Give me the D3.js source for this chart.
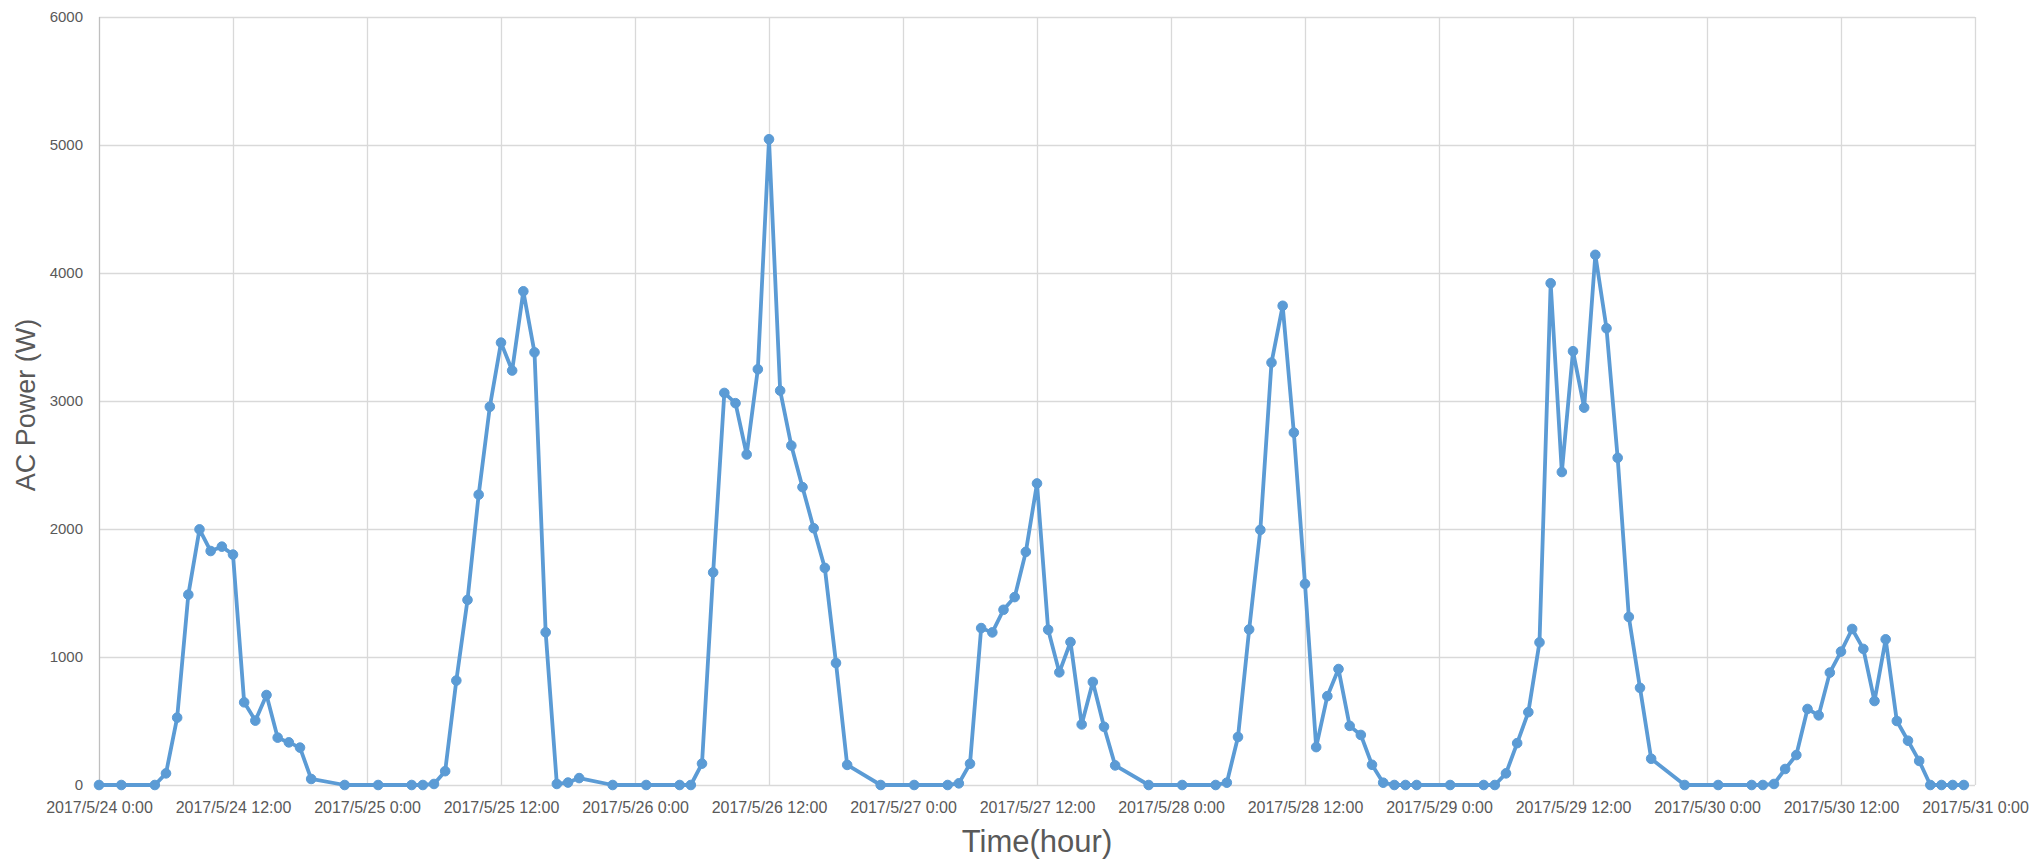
<!DOCTYPE html>
<html>
<head>
<meta charset="utf-8">
<script src="https://cdn.jsdelivr.net/npm/d3@7"></script>
<style>
  html, body { margin: 0; padding: 0; background: #ffffff; }
  svg { display: block; }
  text { font-family: "Liberation Sans", Arial, sans-serif; fill: #595959; }
</style>
</head>
<body>
<svg id="chart" width="2040" height="864"></svg>
<script>
// ---- data ----
const times = [
  "2017/5/24 0:00","2017/5/24 2:00","2017/5/24 5:00","2017/5/24 6:00","2017/5/24 7:00","2017/5/24 8:00","2017/5/24 9:00","2017/5/24 10:00","2017/5/24 11:00","2017/5/24 12:00","2017/5/24 13:00","2017/5/24 14:00","2017/5/24 15:00","2017/5/24 16:00","2017/5/24 17:00","2017/5/24 18:00","2017/5/24 19:00","2017/5/24 22:00",
  "2017/5/25 1:00","2017/5/25 4:00","2017/5/25 5:00","2017/5/25 6:00","2017/5/25 7:00","2017/5/25 8:00","2017/5/25 9:00","2017/5/25 10:00","2017/5/25 11:00","2017/5/25 12:00","2017/5/25 13:00","2017/5/25 14:00","2017/5/25 15:00","2017/5/25 16:00","2017/5/25 17:00","2017/5/25 18:00","2017/5/25 19:00","2017/5/25 22:00",
  "2017/5/26 1:00","2017/5/26 4:00","2017/5/26 5:00","2017/5/26 6:00","2017/5/26 7:00","2017/5/26 8:00","2017/5/26 9:00","2017/5/26 10:00","2017/5/26 11:00","2017/5/26 12:00","2017/5/26 13:00","2017/5/26 14:00","2017/5/26 15:00","2017/5/26 16:00","2017/5/26 17:00","2017/5/26 18:00","2017/5/26 19:00","2017/5/26 22:00",
  "2017/5/27 1:00","2017/5/27 4:00","2017/5/27 5:00","2017/5/27 6:00","2017/5/27 7:00","2017/5/27 8:00","2017/5/27 9:00","2017/5/27 10:00","2017/5/27 11:00","2017/5/27 12:00","2017/5/27 13:00","2017/5/27 14:00","2017/5/27 15:00","2017/5/27 16:00","2017/5/27 17:00","2017/5/27 18:00","2017/5/27 19:00","2017/5/27 22:00",
  "2017/5/28 1:00","2017/5/28 4:00","2017/5/28 5:00","2017/5/28 6:00","2017/5/28 7:00","2017/5/28 8:00","2017/5/28 9:00","2017/5/28 10:00","2017/5/28 11:00","2017/5/28 12:00","2017/5/28 13:00","2017/5/28 14:00","2017/5/28 15:00","2017/5/28 16:00","2017/5/28 17:00","2017/5/28 18:00","2017/5/28 19:00","2017/5/28 20:00","2017/5/28 21:00","2017/5/28 22:00",
  "2017/5/29 1:00","2017/5/29 4:00","2017/5/29 5:00","2017/5/29 6:00","2017/5/29 7:00","2017/5/29 8:00","2017/5/29 9:00","2017/5/29 10:00","2017/5/29 11:00","2017/5/29 12:00","2017/5/29 13:00","2017/5/29 14:00","2017/5/29 15:00","2017/5/29 16:00","2017/5/29 17:00","2017/5/29 18:00","2017/5/29 19:00","2017/5/29 22:00",
  "2017/5/30 1:00","2017/5/30 4:00","2017/5/30 5:00","2017/5/30 6:00","2017/5/30 7:00","2017/5/30 8:00","2017/5/30 9:00","2017/5/30 10:00","2017/5/30 11:00","2017/5/30 12:00","2017/5/30 13:00","2017/5/30 14:00","2017/5/30 15:00","2017/5/30 16:00","2017/5/30 17:00","2017/5/30 18:00","2017/5/30 19:00","2017/5/30 20:00","2017/5/30 21:00","2017/5/30 22:00","2017/5/30 23:00"
];
const acPower = [
  0,0,0,91,526,1487,1997,1828,1862,1800,646,503,703,370,333,292,47,0,
  0,0,0,8,108,816,1446,2268,2955,3456,3238,3857,3380,1193,8,19,54,0,
  0,0,0,167,1661,3063,2983,2582,3248,5045,3081,2652,2327,2006,1696,953,157,0,
  0,0,13,166,1226,1192,1369,1468,1821,2356,1213,880,1117,473,805,455,153,0,
  0,0,18,375,1215,1993,3300,3744,2753,1571,296,694,906,462,391,158,18,0,0,0,
  0,0,0,91,327,569,1114,3920,2445,3389,2948,4142,3568,2556,1313,759,205,0,
  0,0,0,8,125,234,594,544,878,1042,1219,1063,656,1138,500,346,188,0,0,0,0
];
const xDomain = ["2017/5/24 0:00", "2017/5/31 0:00"];
const yTicks = [0, 1000, 2000, 3000, 4000, 5000, 6000];
const xTickStepHours = 12;
const yTitle = "AC Power (W)";
const xTitle = "Time(hour)";

// ---- chart ----
(function () {
  const parse = d3.utcParse("%Y/%m/%d %H:%M");
  const fmt = d3.utcFormat("%Y/%-m/%-d %-H:%M");
  const data = times.map((t, i) => ({ t: parse(t), v: acPower[i] }));

  const mL = 99, mR = 1975, mT = 17, mB = 785;
  const svg = d3.select("#chart");
  svg.append("rect").attr("width", 2040).attr("height", 864).attr("fill", "#ffffff");

  const x = d3.scaleUtc().domain(xDomain.map(parse)).range([mL, mR]);
  const y = d3.scaleLinear().domain([0, 6000]).range([mB, mT]);
  const xTicks = d3.utcHour.every(xTickStepHours).range(x.domain()[0], d3.utcHour.offset(x.domain()[1], 1));

  // gridlines
  svg.append("g")
    .selectAll("line").data(yTicks.filter(d => d > 0)).join("line")
    .attr("x1", mL).attr("x2", mR)
    .attr("y1", d => Math.round(y(d)) + 0.5).attr("y2", d => Math.round(y(d)) + 0.5)
    .attr("stroke", "#d9d9d9").attr("stroke-width", 1.3);
  svg.append("g")
    .selectAll("line").data(xTicks.slice(1)).join("line")
    .attr("x1", d => Math.round(x(d)) + 0.5).attr("x2", d => Math.round(x(d)) + 0.5)
    .attr("y1", mT).attr("y2", mB)
    .attr("stroke", "#d9d9d9").attr("stroke-width", 1.3);

  // axis lines
  svg.append("line").attr("x1", mL + 0.5).attr("x2", mL + 0.5).attr("y1", mT).attr("y2", mB)
    .attr("stroke", "#bfbfbf").attr("stroke-width", 1.3);
  svg.append("line").attr("x1", mL).attr("x2", mR).attr("y1", mB + 0.5).attr("y2", mB + 0.5)
    .attr("stroke", "#d9d9d9").attr("stroke-width", 1.3);

  // y axis labels
  const yAxis = d3.axisLeft(y).tickValues(yTicks).tickSize(0).tickPadding(16).tickFormat(d3.format("d"));
  const gy = svg.append("g").attr("transform", `translate(${mL},0)`).call(yAxis);
  gy.select(".domain").remove();
  gy.selectAll("text").attr("font-size", 15).attr("fill", "#595959")
    .attr("font-family", '"Liberation Sans", Arial, sans-serif');

  // x axis labels
  const xAxis = d3.axisBottom(x).tickValues(xTicks).tickSize(0).tickPadding(0).tickFormat(fmt);
  const gx = svg.append("g").attr("transform", `translate(0,${mB})`).call(xAxis);
  gx.select(".domain").remove();
  gx.selectAll("text").attr("font-size", 16).attr("fill", "#595959")
    .attr("font-family", '"Liberation Sans", Arial, sans-serif')
    .attr("dy", null).attr("y", 28);

  // series
  const line = d3.line().x(d => x(d.t)).y(d => y(d.v));
  svg.append("path").datum(data)
    .attr("d", line).attr("fill", "none")
    .attr("stroke", "#5b9bd5").attr("stroke-width", 3.8)
    .attr("stroke-linejoin", "round").attr("stroke-linecap", "round");
  svg.append("g").selectAll("circle").data(data).join("circle")
    .attr("cx", d => x(d.t)).attr("cy", d => y(d.v)).attr("r", 4.8)
    .attr("fill", "#5b9bd5").attr("stroke", "#5b9bd5").attr("stroke-width", 1);

  // titles
  svg.append("text").text(xTitle)
    .attr("x", (mL + mR) / 2).attr("y", 852)
    .attr("text-anchor", "middle").attr("font-size", 31);
  svg.append("text").text(yTitle)
    .attr("transform", `translate(35,${(mT + mB) / 2 + 4}) rotate(-90)`)
    .attr("text-anchor", "middle").attr("font-size", 27);
})();
</script>
</body>
</html>
